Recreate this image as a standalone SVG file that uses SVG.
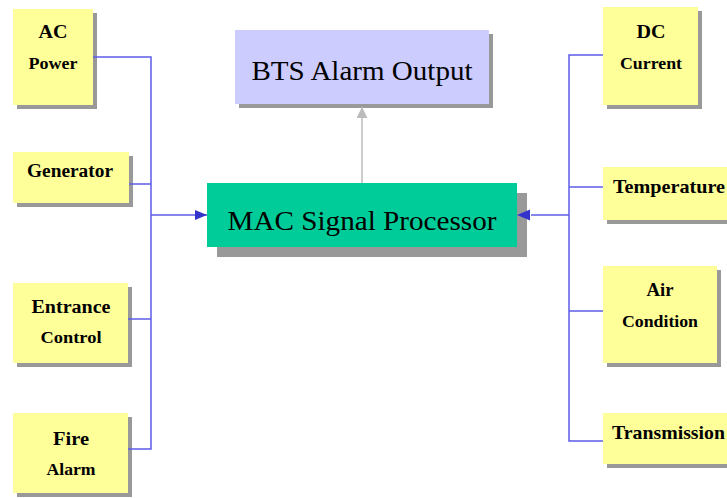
<svg xmlns="http://www.w3.org/2000/svg" width="727" height="498" viewBox="0 0 727 498">
<defs>
<style>
.sh{fill:#999999}
.y{fill:#ffff99}
.t{font-family:"Liberation Serif","Times New Roman",serif;font-weight:bold;fill:#000;text-anchor:middle}
.big{font-family:"Liberation Serif","Times New Roman",serif;fill:#000;text-anchor:middle}
.c{fill:none;stroke:#5c5ce6;stroke-width:1.5}
</style>
<marker id="ab" viewBox="0 0 12 10" refX="12" refY="5" markerWidth="12" markerHeight="10" markerUnits="userSpaceOnUse" orient="auto">
<path d="M0,0 L12,5 L0,10 Z" fill="#3333cc"/>
</marker>
<marker id="ag" viewBox="0 0 12 11" refX="11" refY="5.5" markerWidth="12" markerHeight="11" markerUnits="userSpaceOnUse" orient="auto">
<path d="M0,0 L11,5.5 L0,11 Z" fill="#bbbbbb"/>
</marker>
</defs>
<rect width="727" height="498" fill="#ffffff"/>

<g id="bts">
<rect class="sh" x="239" y="34" width="254" height="74"/>
<rect x="235" y="30" width="254" height="74" fill="#ccccff"/>
<text class="big" x="362" y="80" font-size="27" textLength="221" lengthAdjust="spacingAndGlyphs">BTS Alarm Output</text>
</g>

<g id="mac">
<rect class="sh" x="217" y="193" width="310" height="64"/>
<rect x="207" y="183" width="310" height="64" fill="#00cc99"/>
<text class="big" x="362" y="230" font-size="28" textLength="269" lengthAdjust="spacingAndGlyphs">MAC Signal Processor</text>
</g>

<g id="ac-power">
<rect class="sh" x="17" y="13" width="80" height="96"/>
<rect class="y" x="13" y="9" width="80" height="96"/>
<text class="t" x="53" y="38" font-size="18" textLength="29" lengthAdjust="spacingAndGlyphs">AC</text>
<text class="t" x="53" y="69" font-size="16" textLength="49" lengthAdjust="spacingAndGlyphs">Power</text>
</g>

<g id="generator">
<rect class="sh" x="17" y="156" width="116" height="51"/>
<rect class="y" x="13" y="152" width="116" height="51"/>
<text class="t" x="70" y="177" font-size="18" textLength="86" lengthAdjust="spacingAndGlyphs">Generator</text>
</g>

<g id="entrance-control">
<rect class="sh" x="17" y="287" width="115" height="80"/>
<rect class="y" x="13" y="283" width="115" height="80"/>
<text class="t" x="71" y="313" font-size="18" textLength="79" lengthAdjust="spacingAndGlyphs">Entrance</text>
<text class="t" x="71" y="343" font-size="16" textLength="61" lengthAdjust="spacingAndGlyphs">Control</text>
</g>

<g id="fire-alarm">
<rect class="sh" x="17" y="417" width="115" height="80"/>
<rect class="y" x="13" y="413" width="115" height="80"/>
<text class="t" x="71" y="445" font-size="18" textLength="36" lengthAdjust="spacingAndGlyphs">Fire</text>
<text class="t" x="71" y="475" font-size="16" textLength="49" lengthAdjust="spacingAndGlyphs">Alarm</text>
</g>

<g id="dc-current">
<rect class="sh" x="607" y="11" width="95" height="98"/>
<rect class="y" x="603" y="7" width="95" height="98"/>
<text class="t" x="651" y="38" font-size="18" textLength="29" lengthAdjust="spacingAndGlyphs">DC</text>
<text class="t" x="651" y="69" font-size="16" textLength="62" lengthAdjust="spacingAndGlyphs">Current</text>
</g>

<g id="temperature">
<rect class="sh" x="607" y="171" width="130" height="53"/>
<rect class="y" x="603" y="167" width="130" height="53"/>
<text class="t" x="669" y="193" font-size="19" textLength="112" lengthAdjust="spacingAndGlyphs">Temperature</text>
</g>

<g id="air-condition">
<rect class="sh" x="607" y="270" width="114" height="97"/>
<rect class="y" x="603" y="266" width="114" height="97"/>
<text class="t" x="660" y="296" font-size="18" textLength="27" lengthAdjust="spacingAndGlyphs">Air</text>
<text class="t" x="660" y="327" font-size="16" textLength="76" lengthAdjust="spacingAndGlyphs">Condition</text>
</g>

<g id="transmission">
<rect class="sh" x="607" y="417" width="130" height="51"/>
<rect class="y" x="603" y="413" width="130" height="51"/>
<text class="t" x="668.5" y="439" font-size="19" textLength="113" lengthAdjust="spacingAndGlyphs">Transmission</text>
</g>

<g id="connectors">
<polyline class="c" points="93,57 151,57 151,449 128,449"/>
<line class="c" x1="129" y1="184" x2="151" y2="184"/>
<line class="c" x1="128" y1="319" x2="151" y2="319"/>
<line class="c" x1="151" y1="215" x2="207" y2="215" marker-end="url(#ab)"/>
<polyline class="c" points="603,55 569,55 569,441 603,441"/>
<line class="c" x1="569" y1="187" x2="603" y2="187"/>
<line class="c" x1="569" y1="311" x2="603" y2="311"/>
<line class="c" x1="569" y1="215" x2="531" y2="215"/>
<path d="M530,209.5 L517,215 L530,220.5 Z" fill="#3333cc"/>
<line x1="362" y1="183" x2="362" y2="107" stroke="#bbbbbb" stroke-width="1.5" marker-end="url(#ag)"/>
</g>
</svg>
